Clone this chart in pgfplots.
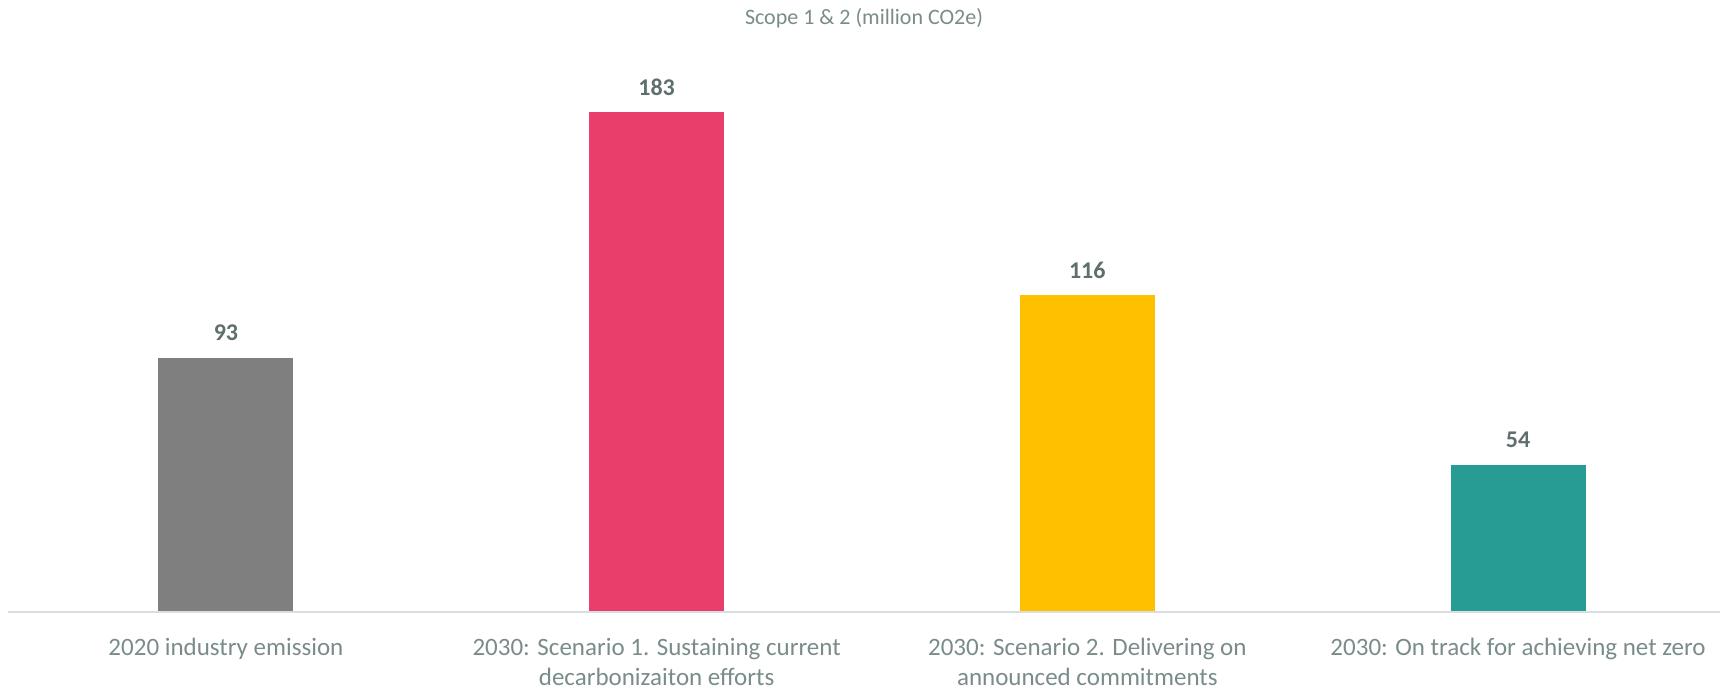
\documentclass[border=0pt]{standalone}
\usepackage{fontspec}
\setmainfont{Carlito}
\usepackage{pgfplots}
\pgfplotsset{compat=1.18}
\definecolor{cgray}{HTML}{7F7F7F}
\definecolor{cpink}{HTML}{E93E6B}
\definecolor{cyellow}{HTML}{FFC000}
\definecolor{cteal}{HTML}{269C95}
\definecolor{ctext}{HTML}{7A8C8A}
\definecolor{clabel}{HTML}{5F6F6E}
\definecolor{caxis}{HTML}{D9DEDE}
\begin{document}
\begin{tikzpicture}
\begin{axis}[
  scale only axis,
  width=856pt, height=273pt,
  xmin=-0.506, xmax=3.469,
  ymin=0, ymax=200,
  axis line style={draw=none},
  axis x line*=bottom,
  axis y line=none,
  ytick=\empty,
  xtick={0,1,2,3},
  xticklabels={{2020 industry emission},{2030: Scenario 1. Sustaining current\\decarbonizaiton efforts},{2030: Scenario 2. Delivering on\\announced commitments},{2030: On track for achieving net zero}},
  xticklabel style={font=\fontsize{12.5pt}{15pt}\selectfont, text=ctext, align=center, anchor=north, yshift=-9.5pt},
  major tick length=0pt,
  clip=false,
  ybar, bar width=67.5pt, bar shift=0pt,
  nodes near coords={\pgfmathprintnumber[assume math mode=true]{\pgfplotspointmeta}},
  every node near coord/.append style={font=\fontsize{12pt}{14pt}\selectfont\bfseries, text=clabel, anchor=center, yshift=12.5pt},
]
\addplot[fill=cgray, draw=none] coordinates {(0,93)};
\addplot[fill=cpink, draw=none] coordinates {(1,183)};
\addplot[fill=cyellow, draw=none] coordinates {(2,116)};
\addplot[fill=cteal, draw=none] coordinates {(3,54)};
\draw[caxis, line width=1pt] (rel axis cs:0,0) -- (rel axis cs:1,0);
\node[font=\fontsize{11pt}{13pt}\selectfont, text=ctext] at ([yshift=24pt]rel axis cs:0.5,1) {Scope 1 \& 2 (million CO2e)};
\coordinate (bl) at (rel axis cs:0,0);
\coordinate (tr) at (rel axis cs:1,1);
\end{axis}
\pgfresetboundingbox
\path ([xshift=-4pt,yshift=-39pt]bl) rectangle ([xshift=2pt,yshift=33pt]tr);
\end{tikzpicture}
\end{document}
